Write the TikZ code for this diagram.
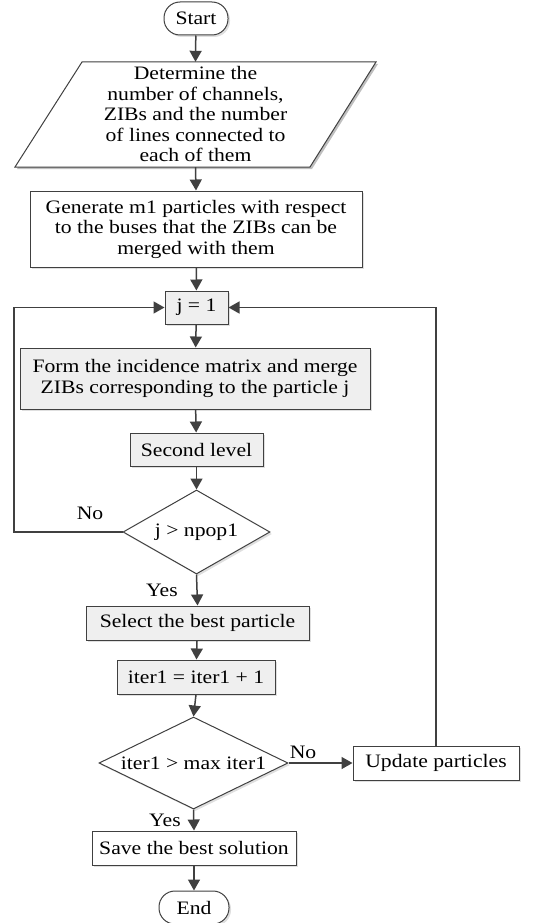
\documentclass[tikz,border=0pt]{standalone}
\usepackage{fontspec}
\setmainfont{Liberation Serif}[FakeStretch=1.14]
\usetikzlibrary{arrows.meta,shapes.geometric,shadows}
\definecolor{ln}{HTML}{404040}
\definecolor{boxgray}{HTML}{EFEFEF}
\begin{document}
\begin{tikzpicture}[x=1pt,y=-1pt,
  txt/.style={font=\fontsize{19}{20.5}\selectfont, align=center},
  base/.style={txt, draw=ln, line width=1pt, inner sep=0pt,
    drop shadow={shadow xshift=2pt,shadow yshift=-2pt,opacity=0.25}},
  wbox/.style={base, fill=white},
  gbox/.style={base, fill=boxgray},
  term/.style={wbox, rounded corners=16pt},
  dec/.style={base, fill=white, diamond},
  arr/.style={draw=ln, line width=1.5pt, -{Triangle[length=11pt,width=12pt]}},
  lbl/.style={txt}]
\useasboundingbox (0,0) rectangle (540,923);

% start
\node[term, minimum width=64, minimum height=33] (start) at (196,18.5) {Start};

% parallelogram
\fill[black, opacity=0.25] (84,64) -- (378,64) -- (312,169) -- (17,169) -- cycle;
\draw[ln, line width=1pt, fill=white] (82,62) -- (376,62) -- (310,167) -- (15,167) -- cycle;
\node[txt, minimum width=361, minimum height=105, inner sep=0pt] (par) at (195.5,114.5)
  {Determine the\\number of channels,\\ZIBs and the number\\of lines connected to\\each of them};

\node[wbox, minimum width=332, minimum height=76] (gen) at (196,229)
  {Generate m1 particles with respect\\to the buses that the ZIBs can be\\merged with them};
\node[gbox, minimum width=63, minimum height=33] (j1) at (196.5,307.5) {j = 1};
\node[gbox, minimum width=350, minimum height=61] (form) at (195,378.5)
  {Form the incidence matrix and merge\\ZIBs corresponding to the particle j};
\node[gbox, minimum width=133, minimum height=33] (second) at (196.5,449.5) {Second level};
\node[dec, aspect=1.75, minimum width=147, minimum height=84] (d1) at (196.5,532) {j > npop1};
\node[gbox, minimum width=223, minimum height=34] (select) at (197.5,623) {Select the best particle};
\node[gbox, minimum width=158, minimum height=34] (iter) at (196,677) {iter1 = iter1 + 1};
\node[dec, aspect=2.05, minimum width=189, minimum height=92] (d2) at (193.5,763) {iter1 > max iter1};
\node[wbox, minimum width=166, minimum height=34] (upd) at (436,763) {Update particles};
\node[wbox, minimum width=204, minimum height=34] (save) at (194,848) {Save the best solution};
\node[term, minimum width=70, minimum height=33] (end) at (194,907.5) {End};

% labels
\node[lbl] (no1) at (90,513) {No};
\node[lbl] (yes1) at (162,590) {Yes};
\node[lbl] (no2) at (303,752) {No};
\node[lbl] (yes2) at (165,820) {Yes};

% connectors
\coordinate (lc) at (14,532);
\draw[arr] (start) -- (par.north);
\draw[arr] (par.south) -- (gen.north);
\draw[arr] (gen) -- (j1);
\draw[arr] (j1) -- (form);
\draw[arr] (form) -- (second);
\draw[arr] (second) -- (d1);
\draw[arr] (d1.west) -- (lc) |- (j1.west);
\draw[arr] (d1.south) -- (select.north);
\draw[arr] (select) -- (iter);
\draw[arr] (iter.south) -- (d2.north);
\draw[arr] (d2.east) -- (upd.west);
\draw[arr] (upd.north) |- (j1.east);
\draw[arr] (d2.south) -- (save.north);
\draw[arr] (save) -- (end);
\end{tikzpicture}
\end{document}
